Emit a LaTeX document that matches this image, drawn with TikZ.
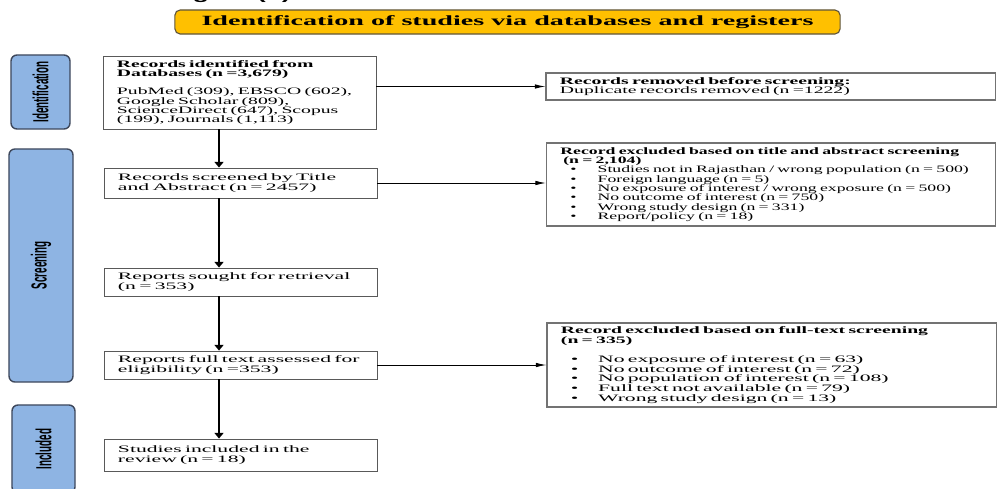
\documentclass[tikz,border=0pt]{standalone}
\usepackage{fontspec}
\setmainfont{Liberation Serif}[FakeStretch=1.8]
\newfontfamily\wideII{Liberation Serif}[FakeStretch=2.0]
\newfontfamily\wideIII{Liberation Serif}[FakeStretch=2.2]
\newfontfamily\sidefont{Liberation Sans}
\newfontfamily\figfont{Liberation Sans}[FakeStretch=1.8]
\usepackage{graphicx}
\usetikzlibrary{arrows.meta}

\definecolor{stageblue}{RGB}{142,180,227}
\definecolor{stageline}{RGB}{62,72,92}
\definecolor{bannergold}{RGB}{255,192,0}
\definecolor{bannerline}{RGB}{95,85,60}

\newcommand{\bulitem}[1]{\hspace*{0.25cm}\makebox[0.68cm][l]{\textbullet}#1}
\newcommand{\stagetext}[1]{\rotatebox{90}{\scalebox{0.7}[1.55]{\sidefont\bfseries #1}}}

\begin{document}
\begin{tikzpicture}[x=0.025cm, y=-0.025cm,
	stage/.style={draw=stageline, line width=1pt, fill=stageblue, rounded corners=0.15cm, inner sep=0pt},
	flowbox/.style={draw=black!65, line width=0.6pt, fill=white, inner xsep=0.35cm, inner ysep=0pt, text width=6.125cm, align=left, font=\fontsize{7}{6.6}\selectfont\wideIII},
	sidebox/.style={flowbox, draw=black!55, line width=0.8pt, text width=10.525cm, font=\fontsize{7}{6.6}\selectfont},
	down/.style={line width=1.3pt, -{Triangle[length=1.4mm,width=2.2mm]}},
	aside/.style={line width=0.6pt, -{Latex[length=2.6mm,width=1.1mm]}}]
	\useasboundingbox (0,0) rectangle (997,488);

	% cut-off caption and the open stage box at the bottom
	\begin{scope}
	\clip (0,0) rectangle (997,488);
	\node[anchor=base east, inner sep=0pt, font=\fontsize{10.4}{12}\selectfont\figfont\bfseries] (figtag) at (291,-1) {Figure (b)};
	\node[stage, minimum width=1.575cm, minimum height=2.2cm] (incl) at (43.5,449) {\stagetext{Included}};
	\end{scope}

	\node[draw=bannerline, line width=0.8pt, fill=bannergold, rounded corners=0.13cm, minimum width=16.625cm, minimum height=0.6cm, inner sep=0pt, font=\fontsize{10}{10}\selectfont\wideII\bfseries] (banner) at (507.5,22) {Identification of studies via databases and registers};

	\node[stage, minimum width=1.475cm, minimum height=1.85cm] (ident) at (40.5,92) {\stagetext{Identification}};
	\node[stage, minimum width=1.6cm, minimum height=5.825cm] (screening) at (41,265.5) {\stagetext{Screening}};

	\node[flowbox, minimum height=1.825cm, font=\fontsize{7}{6.6}\selectfont\wideII] (recid) at (239.5,92.5) {\textbf{Records identified from}\\
		\textbf{Databases (n =3,679)}\\[6.6pt]
		PubMed (309), EBSCO (602),\\
		Google Scholar (809),\\
		ScienceDirect (647), Scopus\\
		(199), Journals (1,113)};
	\node[flowbox, minimum height=0.75cm] (screen) at (240.5,183) {Records screened by Title\\ and Abstract (n = 2457)};
	\node[flowbox, minimum height=0.7cm] (sought) at (240.5,282) {Reports sought for retrieval\\ (n = 353)};
	\node[flowbox, minimum height=0.7cm] (assess) at (240.5,365) {Reports full text assessed for\\ eligibility (n =353)};
	\node[flowbox, minimum height=0.8cm] (studies) at (240.5,455) {Studies included in the\\ review (n = 18)};

	\node[sidebox, minimum height=0.675cm, font=\fontsize{7}{6.6}\selectfont\wideII] (removed) at (770.5,86.5) {\textbf{Records removed before screening:}\\
		Duplicate records removed (n =1222)};
	\node[sidebox, minimum height=2.075cm] (exclta) at (771,184.5) {\textbf{Record excluded based on title and abstract screening}\\
		\hspace*{2pt}\textbf{(n = 2,104)}\\
		\bulitem{Studies not in Rajasthan / wrong population (n = 500)}\\
		\bulitem{Foreign language (n = 5)}\\
		\bulitem{No exposure of interest / wrong exposure (n = 500)}\\
		\bulitem{No outcome of interest (n = 750)}\\
		\bulitem{Wrong study design (n = 331)}\\
		\bulitem{Report/policy (n = 18)}};
	\node[sidebox, minimum height=2.1cm, font=\fontsize{7}{6.9}\selectfont\wideIII] (exclft) at (771.5,365) {{\wideII\bfseries Record excluded based on full-text screening}\\
		{\wideII\bfseries (n = 335)}\\[6.6pt]
		\bulitem{No exposure of interest (n = 63)}\\
		\bulitem{No outcome of interest (n = 72)}\\
		\bulitem{No population of interest (n = 108)}\\
		\bulitem{Full text not available (n = 79)}\\
		\bulitem{Wrong study design (n = 13)}};

	\coordinate (spine) at (219,0);
	\draw[down] (recid.south -| spine) -- (screen.north -| spine);
	\draw[down] (screen.south -| spine) -- (sought.north -| spine);
	\draw[down] (sought.south -| spine) -- (assess.north -| spine);
	\draw[down] (assess.south -| spine) -- (studies.north -| spine);

	\draw[aside] (removed.west -| recid.east) -- (removed.west);
	\draw[aside] (screen.east) -- (screen.east -| exclta.west);
	\draw[aside] (assess.east) -- (assess.east -| exclft.west);

\end{tikzpicture}
\end{document}
